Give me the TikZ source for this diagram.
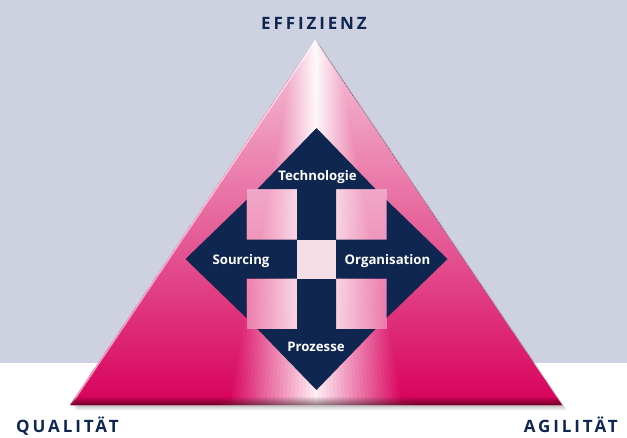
\documentclass[tikz,border=0pt]{standalone}
\usepackage{fontspec}
\setmainfont{Open Sans}
\newfontfamily\capsfont[LetterSpace=17]{Open Sans}
\usetikzlibrary{fadings}
\definecolor{bgblue}{RGB}{205,209,224}
\definecolor{crimson}{RGB}{216,0,92}
\definecolor{navy}{RGB}{14,38,80}
\definecolor{paleCenter}{RGB}{255,238,244}
\definecolor{centersq}{RGB}{246,222,230}
\definecolor{maroon}{RGB}{112,0,40}
\definecolor{rimgray}{RGB}{140,115,125}
\pgfdeclarehorizontalshading{rimshade}{100bp}{color(0bp)=(maroon); color(40bp)=(maroon); color(50bp)=(rimgray); color(60bp)=(maroon); color(100bp)=(maroon)}
\tikzfading[name=apexfade, top color=transparent!22, middle color=transparent!96, bottom color=transparent!100]
\tikzfading[name=rimfade, top color=transparent!100, bottom color=transparent!0]
\tikzset{
  inlbl/.style={text=white, font=\bfseries\fontsize{13.2}{15}\selectfont, inner sep=0pt, anchor=base},
  caplbl/.style={text=navy, font=\capsfont\bfseries\fontsize{17}{19}\selectfont, inner sep=0pt},
  cornersq/.style={fill=white, opacity=0.36},
}
\begin{document}
\begin{tikzpicture}[x=1pt,y=-1pt]
\useasboundingbox (0,0) rectangle (627,437);
\fill[white] (0,0) rectangle (627,437);
\fill[bgblue] (0,0) rectangle (627,363);
% coordinates of the triangle
\coordinate (apex) at (315,40);
\coordinate (bl) at (70,405);
\coordinate (br) at (562,405);
\coordinate (fanorigin) at (316,-60);
% soft shadow
\foreach \i in {1,...,6}{
  \fill[black, opacity=0.045, xshift=\i*0.9pt, yshift=-\i*0.9pt] (315,40) -- (70,405) -- (562,405) -- cycle;
}
% triangle body: fan shading
\begin{scope}
  \clip (apex) -- (bl) -- (br) -- cycle;
  \foreach \i in {0,...,122}{
    \pgfmathsetmacro{\xa}{70+\i*4}
    \pgfmathsetmacro{\xb}{\xa+5}
    \pgfmathsetmacro{\pc}{min(100,abs(\xa+2-316)/88*100)}
    \fill[crimson!\pc!paleCenter] (fanorigin) -- (\xa,406) -- (\xb,406) -- cycle;
  }
  \fill[white, path fading=apexfade] (apex) -- (bl) -- (br) -- cycle;
  \draw[white, opacity=0.55, line width=3pt] (apex) -- (bl);
\end{scope}
% base rim
\shade[shading=rimshade, path fading=rimfade] (76,396) -- (556,396) -- (562,405) -- (70,405) -- cycle;
% cross of arrows
\begin{scope}[shift={(316.5,259)}]
  \fill[cornersq] (-70,-70) rectangle (-19.5,-19.5);
  \fill[cornersq] (19.5,-70) rectangle (70,-19.5);
  \fill[cornersq] (-70,19.5) rectangle (-19.5,70);
  \fill[cornersq] (19.5,19.5) rectangle (70,70);
  \fill[navy] (0,-131) -- (59,-70) -- (19.5,-70) -- (19.5,-19.5) -- (70,-19.5) -- (70,-59)
    -- (131,0) -- (70,59) -- (70,19.5) -- (19.5,19.5) -- (19.5,70) -- (59,70)
    -- (0,131) -- (-59,70) -- (-19.5,70) -- (-19.5,19.5) -- (-70,19.5) -- (-70,59)
    -- (-131,0) -- (-70,-59) -- (-70,-19.5) -- (-19.5,-19.5) -- (-19.5,-70) -- (-59,-70) -- cycle;
  \fill[centersq] (-19.5,-19.5) rectangle (19.5,19.5);
\end{scope}
% labels inside
\node[inlbl] (tech) at (317.5,180) {Technologie};
\node[inlbl] (sourcing) at (241,264) {Sourcing};
\node[inlbl] (orga) at (387.5,264) {Organisation};
\node[inlbl] (proz) at (316,351) {Prozesse};
% corner labels
\node[caplbl, anchor=base] (eff) at (314,29) {EFFIZIENZ};
\node[caplbl, anchor=base west] (qual) at (16,432) {QUALITÄT};
\node[caplbl, anchor=base east] (agil) at (618,432) {AGILITÄT};
\end{tikzpicture}
\end{document}
